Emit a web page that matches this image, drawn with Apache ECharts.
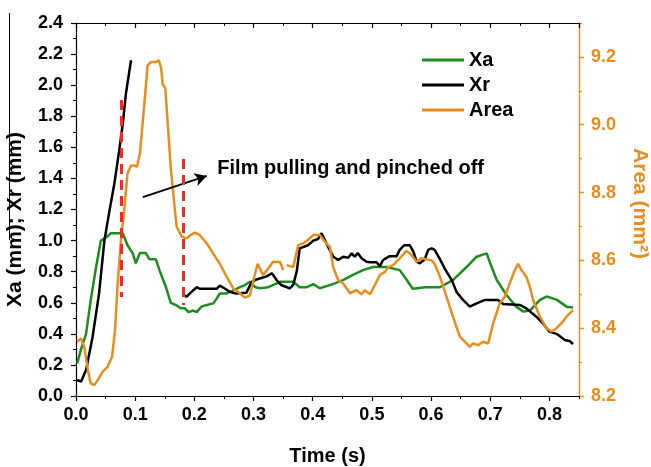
<!DOCTYPE html>
<html>
<head>
<meta charset="utf-8">
<script src="https://cdn.jsdelivr.net/npm/echarts@6/dist/echarts.min.js"></script>
<style>
html,body{margin:0;padding:0;background:#fff;}
#chart{width:651px;height:467px;}
</style>
</head>
<body>
<div id="chart"></div>
<script>
// ---- data (time s, value) ----
const xaPoints = [[0.002,0.21],[0.0085,0.30],[0.017,0.40],[0.025,0.62],[0.034,0.83],[0.042,1.0],[0.051,1.02],[0.059,1.047],[0.079,1.047],[0.087,0.97],[0.096,0.918],[0.101,0.854],[0.108,0.92],[0.118,0.92],[0.124,0.88],[0.135,0.88],[0.141,0.81],[0.152,0.70],[0.160,0.60],[0.169,0.585],[0.177,0.564],[0.184,0.564],[0.190,0.54],[0.198,0.55],[0.204,0.54],[0.212,0.575],[0.221,0.586],[0.232,0.596],[0.238,0.628],[0.243,0.66],[0.2545,0.66],[0.266,0.68],[0.277,0.70],[0.2855,0.714],[0.294,0.735],[0.303,0.70],[0.311,0.693],[0.325,0.70],[0.345,0.735],[0.367,0.735],[0.378,0.70],[0.390,0.70],[0.401,0.72],[0.412,0.693],[0.434,0.72],[0.451,0.746],[0.468,0.78],[0.485,0.81],[0.502,0.83],[0.525,0.83],[0.547,0.81],[0.559,0.746],[0.569,0.69],[0.59,0.70],[0.615,0.70],[0.637,0.746],[0.66,0.83],[0.677,0.896],[0.694,0.918],[0.699,0.864],[0.711,0.746],[0.7275,0.65],[0.744,0.575],[0.756,0.543],[0.767,0.55],[0.784,0.618],[0.795,0.64],[0.812,0.62],[0.829,0.575],[0.840,0.57]];

const xrPoints = [[0.002,0.103],[0.0085,0.092],[0.017,0.167],[0.028,0.38],[0.039,0.66],[0.048,1.0],[0.056,1.18],[0.065,1.37],[0.073,1.58],[0.079,1.75],[0.0845,1.95],[0.093,2.16],[0.13,null],[0.180,0.65],[0.187,0.64],[0.195,0.67],[0.204,0.70],[0.209,0.69],[0.238,0.69],[0.243,0.71],[0.252,0.69],[0.260,0.67],[0.269,0.66],[0.288,0.665],[0.297,0.735],[0.305,0.75],[0.322,0.77],[0.331,0.79],[0.339,0.746],[0.347,0.714],[0.361,0.693],[0.367,0.714],[0.373,0.80],[0.378,0.95],[0.392,0.97],[0.401,1.0],[0.409,1.01],[0.415,1.047],[0.426,0.96],[0.435,0.896],[0.443,0.875],[0.4515,0.896],[0.46,0.89],[0.466,0.918],[0.471,0.896],[0.476,0.92],[0.4826,0.886],[0.491,0.864],[0.497,0.86],[0.508,0.86],[0.5135,0.836],[0.519,0.875],[0.530,0.9],[0.542,0.9],[0.547,0.94],[0.5546,0.97],[0.564,0.97],[0.570,0.93],[0.5755,0.864],[0.581,0.854],[0.5895,0.88],[0.595,0.94],[0.601,0.95],[0.606,0.94],[0.615,0.88],[0.623,0.82],[0.635,0.746],[0.643,0.67],[0.654,0.618],[0.6655,0.575],[0.677,0.596],[0.691,0.618],[0.713,0.618],[0.722,0.592],[0.75,0.586],[0.761,0.564],[0.778,0.51],[0.789,0.468],[0.80,0.414],[0.812,0.40],[0.826,0.36],[0.834,0.354],[0.840,0.335]];

const areaPoints = [[0.002,8.36],[0.0085,8.37],[0.014,8.345],[0.020,8.277],[0.025,8.237],[0.031,8.232],[0.037,8.247],[0.045,8.272],[0.0535,8.286],[0.061,8.316],[0.066,8.395],[0.0704,8.532],[0.076,8.66],[0.082,8.758],[0.087,8.856],[0.093,8.88],[0.0985,8.88],[0.103,8.876],[0.108,8.915],[0.1126,9.004],[0.117,9.092],[0.121,9.175],[0.127,9.185],[0.135,9.185],[0.140,9.19],[0.1436,9.17],[0.1465,9.12],[0.151,9.107],[0.155,9.004],[0.160,8.876],[0.166,8.768],[0.170,8.70],[0.1785,8.67],[0.187,8.665],[0.194,8.675],[0.201,8.682],[0.209,8.675],[0.221,8.65],[0.232,8.62],[0.243,8.59],[0.2545,8.552],[0.266,8.517],[0.277,8.503],[0.2855,8.49],[0.294,8.497],[0.302,8.557],[0.307,8.59],[0.316,8.557],[0.325,8.576],[0.333,8.596],[0.345,8.595],[0.350,8.571],[0.353,null],[0.356,8.586],[0.367,8.58],[0.3755,8.645],[0.384,8.65],[0.392,8.66],[0.401,8.675],[0.412,8.675],[0.4206,8.655],[0.429,8.64],[0.4346,8.58],[0.443,8.542],[0.4515,8.532],[0.463,8.503],[0.474,8.512],[0.4826,8.50],[0.488,8.512],[0.497,8.50],[0.505,8.527],[0.5135,8.557],[0.522,8.566],[0.5275,8.58],[0.536,8.586],[0.547,8.606],[0.5586,8.628],[0.567,8.616],[0.5755,8.596],[0.584,8.606],[0.601,8.60],[0.606,8.59],[0.615,8.552],[0.626,8.493],[0.637,8.434],[0.6486,8.375],[0.66,8.355],[0.6655,8.345],[0.671,8.355],[0.6796,8.35],[0.688,8.36],[0.6965,8.355],[0.705,8.414],[0.716,8.473],[0.7247,8.493],[0.733,8.532],[0.7416,8.571],[0.747,8.59],[0.753,8.571],[0.761,8.552],[0.767,8.522],[0.7725,8.483],[0.784,8.434],[0.795,8.40],[0.8035,8.39],[0.812,8.40],[0.820,8.414],[0.829,8.434],[0.840,8.453]];

// annotation geometry in data space (time, Xa/Xr)
const cutLines = [[0.077, 1.905, 0.637], [0.182, 1.525, 0.586]];
const arrowFrom = [0.113, 1.28];
const arrowTo = [0.221, 1.416];
const noteAt = [0.238, 1.467];
const noteText = 'Film pulling and pinched off';

const seriesNames = ['Xa', 'Xr', 'Area'];

// ---- styling ----
const FONT = '"Liberation Sans", Arial, sans-serif';
const GREEN = '#1f8c1f';
const ORANGE = '#e68d1c';
const toData = pts => pts.map(p => [p[0], p[1] === null ? '-' : p[1]]);
const bold = (size, color) => ({fontFamily: FONT, fontWeight: 'bold', fontSize: size, color: color || '#000'});

const chart = echarts.init(document.getElementById('chart'), null, {renderer: 'canvas'});

const G = {left: 76, right: 72, top: 23, bottom: 71, containLabel: false, outerBoundsMode: 'none'};
const xBase = {type: 'value', min: 0, max: 0.85, splitLine: {show: false}, minorSplitLine: {show: false}};
const line = (show, color, width) => ({show: show, onZero: false, lineStyle: {color: color, width: width}});
const option = {
  animation: false,
  backgroundColor: '#fff',
  grid: [Object.assign({}, G), Object.assign({}, G)],
  legend: {
    data: seriesNames, orient: 'vertical', left: 422, top: 50, padding: 0,
    icon: 'rect', itemWidth: 42, itemHeight: 3, itemGap: 5,
    textStyle: bold(20)
  },
  xAxis: [
    Object.assign({}, xBase, {
      gridIndex: 0, position: 'bottom', interval: 0.1,
      axisLine: line(true, '#000', 1.2),
      axisTick: {show: true, length: 5, lineStyle: {color: '#000', width: 1.2}},
      axisLabel: Object.assign(bold(18), {margin: 10, showMaxLabel: false,
        formatter: v => Math.abs(v - 0.85) < 1e-6 ? '' : v.toFixed(1)}),
      name: 'Time (s)', nameLocation: 'middle', nameGap: 50, nameTextStyle: bold(20)
    }),
    Object.assign({}, xBase, {
      gridIndex: 0, position: 'top', interval: 0.1,
      axisLine: line(true, '#000', 1.2),
      axisTick: {show: true, inside: true, length: 5, lineStyle: {color: '#000', width: 1.2}},
      axisLabel: {show: false}
    }),
    Object.assign({}, xBase, {
      gridIndex: 1, position: 'bottom', interval: 0.05,
      axisLine: line(false, '#000', 1),
      axisTick: {show: true, length: 3, lineStyle: {color: '#000', width: 1}},
      axisLabel: {show: false}
    }),
    Object.assign({}, xBase, {
      gridIndex: 1, position: 'top', interval: 0.05,
      axisLine: line(false, '#000', 1),
      axisTick: {show: true, inside: true, length: 3, lineStyle: {color: '#000', width: 1}},
      axisLabel: {show: false}
    })
  ],
  yAxis: [
    {
      gridIndex: 0, type: 'value', position: 'left', min: 0, max: 2.4, interval: 0.2,
      splitLine: {show: false}, minorSplitLine: {show: false},
      axisLine: line(true, '#000', 1.2),
      axisTick: {show: true, length: 5, lineStyle: {color: '#000', width: 1.2}},
      minorTick: {show: true, splitNumber: 2, length: 3, lineStyle: {color: '#000', width: 1}},
      axisLabel: Object.assign(bold(18), {margin: 13, formatter: v => v.toFixed(1)}),
      name: 'Xa (mm); Xr (mm)', nameLocation: 'middle', nameGap: 50,
      nameTextStyle: Object.assign(bold(21), {padding: [0, 20, 0, 0]})
    },
    {
      gridIndex: 0, type: 'value', position: 'right', min: 8.2, max: 9.3, interval: 0.2,
      splitLine: {show: false}, minorSplitLine: {show: false},
      axisLine: line(true, ORANGE, 1.4),
      axisTick: {show: true, length: 5, lineStyle: {color: ORANGE, width: 1.4}},
      axisLabel: Object.assign(bold(18, ORANGE), {margin: 12, showMaxLabel: false,
        formatter: v => Math.abs(v - 9.3) < 1e-6 ? '' : v.toFixed(1)}),
      name: 'Area (mm²)', nameLocation: 'middle', nameGap: 50, nameRotate: -90,
      nameTextStyle: Object.assign(bold(21, ORANGE), {padding: [0, 12, 0, 0]})
    },
    {
      gridIndex: 1, type: 'value', position: 'right', min: 8.2, max: 9.3, interval: 0.1,
      splitLine: {show: false},
      axisLine: line(false, ORANGE, 1),
      axisTick: {show: true, length: 3, lineStyle: {color: ORANGE, width: 1.2}},
      axisLabel: {show: false}
    }
  ],
  series: [
    {
      name: 'Xa', type: 'line', xAxisIndex: 0, yAxisIndex: 0, data: toData(xaPoints),
      symbol: 'none', connectNulls: false,
      lineStyle: {color: GREEN, width: 2.5}, itemStyle: {color: GREEN},
      markLine: {
        silent: true, symbol: ['none', 'arrow'], symbolSize: [10, 12],
        label: {show: false},
        lineStyle: {color: '#000', width: 1.8, type: 'solid'},
        data: [[{coord: arrowFrom}, {coord: arrowTo}]]
      },
      markPoint: {
        silent: true, symbol: 'circle', symbolSize: 1,
        itemStyle: {color: 'rgba(0,0,0,0)'},
        label: Object.assign(bold(20), {show: true, position: 'right', distance: 0, formatter: noteText}),
        data: [{coord: noteAt}]
      }
    },
    {
      name: 'Xr', type: 'line', xAxisIndex: 0, yAxisIndex: 0, data: toData(xrPoints),
      symbol: 'none', connectNulls: false,
      lineStyle: {color: '#000', width: 2.5}, itemStyle: {color: '#000'}
    },
    {
      name: 'Area', type: 'line', xAxisIndex: 0, yAxisIndex: 1, data: toData(areaPoints),
      symbol: 'none', connectNulls: false,
      lineStyle: {color: ORANGE, width: 2.5}, itemStyle: {color: ORANGE},
      z: 3
    },
    {
      name: 'cuts', type: 'line', xAxisIndex: 0, yAxisIndex: 0, data: [],
      markLine: {
        silent: true, symbol: ['none', 'none'], label: {show: false},
        lineStyle: {color: '#ff2424', width: 3, type: [10, 6]},
        data: cutLines.map(c => [{coord: [c[0], c[1]]}, {coord: [c[0], c[2]]}])
      },
      z: 5
    }
  ],
  graphic: [
    {type: 'line', shape: {x1: 9.5, y1: 13, x2: 9.5, y2: 240}, style: {stroke: '#000', lineWidth: 1}}
  ]
};
chart.setOption(option);
</script>
</body>
</html>
